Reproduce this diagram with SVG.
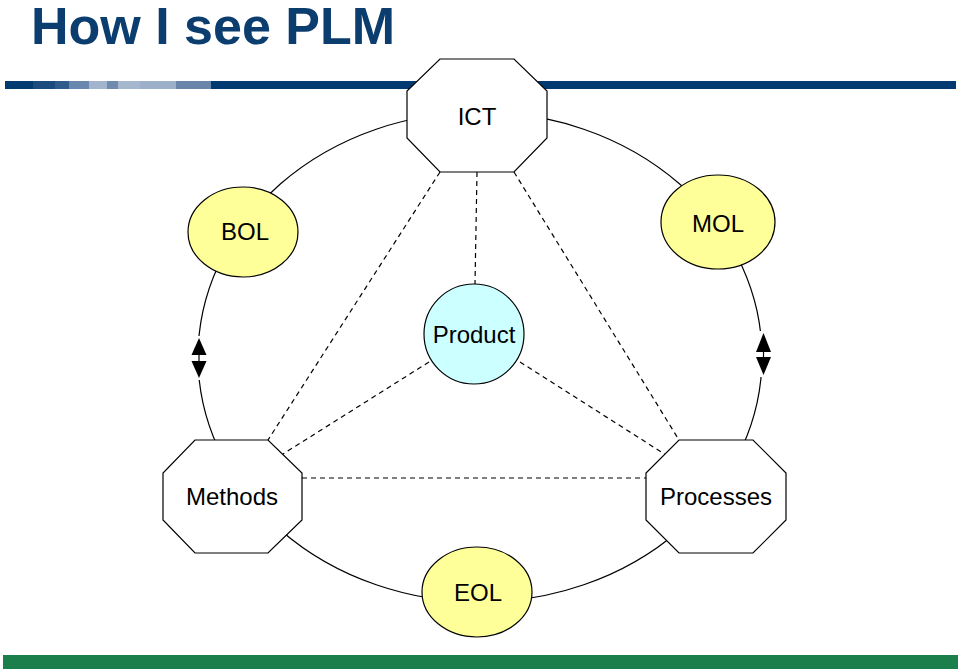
<svg xmlns="http://www.w3.org/2000/svg" width="960" height="671" viewBox="0 0 960 671">
<style>
.t{font-family:"Liberation Sans",Arial,sans-serif;font-size:24px;fill:#000;text-anchor:middle}
.title{font-family:"Liberation Sans",Arial,sans-serif;font-size:52px;font-weight:bold;fill:#0b3d6e}
.oct{fill:#fff;stroke:#000;stroke-width:1.2}
.yel{fill:#ffff99;stroke:#000;stroke-width:1.2}
.cyan{fill:#ccffff;stroke:#000;stroke-width:1.2}
.dash{stroke:#000;stroke-width:1.2;stroke-dasharray:5,4;fill:none}
.arc{stroke:#000;stroke-width:1.2;fill:none}
.ah{fill:#000}
</style>
<rect width="960" height="671" fill="#fff"/>
<g id="header">
<text class="title" x="31" y="44">How I see PLM</text>
<rect x="5" y="81" width="28" height="8" fill="#003a70"/>
<rect x="33" y="81" width="22" height="8" fill="#1d4a7e"/>
<rect x="55" y="81" width="14" height="8" fill="#2f5a8a"/>
<rect x="69" y="81" width="20" height="8" fill="#6a88ad"/>
<rect x="89" y="81" width="18" height="8" fill="#a2b5cc"/>
<rect x="107" y="81" width="11" height="8" fill="#6f8cb0"/>
<rect x="118" y="81" width="22" height="8" fill="#a6b8ce"/>
<rect x="140" y="81" width="36" height="8" fill="#9db0c9"/>
<rect x="176" y="81" width="35" height="8" fill="#6985aa"/>
<rect x="211" y="81" width="745" height="8" fill="#003a70"/>
<rect x="3" y="655" width="955" height="14" fill="#1a7f4a"/>
</g>
<g id="connectors">
<ellipse class="arc" cx="480" cy="357" rx="282" ry="245"/>
<line class="dash" x1="440" y1="172" x2="268" y2="440"/>
<line class="dash" x1="477" y1="172" x2="475" y2="284"/>
<line class="dash" x1="514" y1="172" x2="679" y2="440"/>
<line class="dash" x1="429" y1="362" x2="283" y2="454"/>
<line class="dash" x1="520" y1="362" x2="666" y2="455"/>
<line class="dash" x1="302" y1="478" x2="646" y2="478"/>
<rect x="191" y="336" width="16" height="44" fill="#fff"/>
<line class="arc" x1="199" y1="352" x2="199" y2="364"/>
<polygon class="ah" points="199,338 191.5,355 206.5,355"/>
<polygon class="ah" points="191.5,361 206.5,361 199,378"/>
<rect x="755" y="331" width="17" height="46" fill="#fff"/>
<line class="arc" x1="763.5" y1="350" x2="763.5" y2="360"/>
<polygon class="ah" points="763.5,333 756,352 771,352"/>
<polygon class="ah" points="756,357 771,357 763.5,375"/>
</g>
<g id="ict">
<polygon class="oct" points="440,59 514,59 547,91 547,138 514,172 440,172 407,138 407,91"/>
<text class="t" x="477" y="125">ICT</text>
</g>
<g id="methods">
<polygon class="oct" points="195,440 268,440 302,473 302,520 268,553 195,553 163,520 163,473"/>
<text class="t" x="232" y="505">Methods</text>
</g>
<g id="processes">
<polygon class="oct" points="679,440 753,440 786,473 786,520 753,553 679,553 646,520 646,473"/>
<text class="t" x="716" y="505">Processes</text>
</g>
<g id="bol">
<ellipse class="yel" cx="243" cy="232" rx="55" ry="45"/>
<text class="t" x="245" y="240">BOL</text>
</g>
<g id="mol">
<ellipse class="yel" cx="718" cy="222" rx="57" ry="47"/>
<text class="t" x="718" y="232">MOL</text>
</g>
<g id="product">
<circle class="cyan" cx="474" cy="334" r="50"/>
<text class="t" x="474" y="343">Product</text>
</g>
<g id="eol">
<ellipse class="yel" cx="477" cy="592" rx="55" ry="45"/>
<text class="t" x="478" y="601">EOL</text>
</g>
</svg>
